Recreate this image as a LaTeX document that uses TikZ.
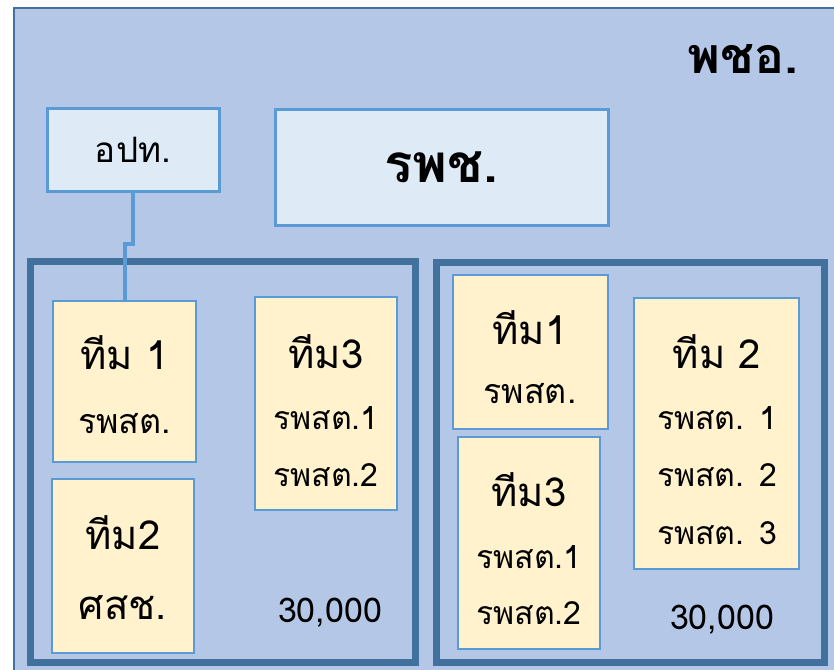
\documentclass[tikz,border=0pt]{standalone}
\usepackage{fontspec}
\newfontfamily\thai[Script=Thai]{Loma}
\definecolor{bgblue}{HTML}{B4C7E7}
\definecolor{frameblue}{HTML}{41719C}
\definecolor{edgeblue}{HTML}{5B9BD5}
\definecolor{paleblue}{HTML}{DEEBF7}
\definecolor{cream}{HTML}{FFF2CC}
\tikzset{
  fsz/.style={font=\thai\fontsize{#1}{#1}\selectfont},
  headbox/.style={draw=edgeblue, line width=3pt, fill=paleblue, inner sep=0pt},
  teambox/.style={draw=edgeblue, line width=1.3pt, fill=cream, inner sep=0pt},
  groupbox/.style={draw=frameblue, line width=7pt, inner sep=0pt},
  txt/.style={inner sep=0pt, anchor=center},
  link/.style={draw=edgeblue, line width=4pt},
}
\newcommand{\boxat}[6]{% name, style, x1, y1, x2, y2
  \node[#2, minimum width={(#5)-(#3)}, minimum height={(#6)-(#4)}] (#1) at ({((#3)+(#5))/2},{((#4)+(#6))/2}) {};}
\begin{document}
\begin{tikzpicture}[x=1pt, y=-1pt]
\useasboundingbox (0,0) rectangle (834,669);
\fill[white] (0,0) rectangle (834,669);
\begin{scope}
\clip (0,0) rectangle (834,669);
\draw[fill=bgblue, draw=frameblue, line width=2pt] (14,8) rectangle (860,700);
\end{scope}

% title of the whole area
\node[txt, fsz=50] (pcho) at (743,59) {\bfseries พชอ.};

% header boxes
\boxat{opt}{headbox}{47}{108}{219}{191}
\node[txt, fsz=35] (optt) at (opt) {อปท.};
\boxat{rpc}{headbox}{275}{109}{608}{225}
\node[txt, fsz=53] (rpct) at (rpc) {\bfseries รพช.};

% two groups
\boxat{gl}{groupbox}{30}{261}{415}{662}
\boxat{gr}{groupbox}{436}{262}{824}{662}

% left group teams
\boxat{la}{teambox}{53}{301}{196}{462}
\node[txt, fsz=40] (lat) at (124.5,353) {ทีม 1};
\node[txt, fsz=34] (las) at (124.5,424) {รพสต.};
\boxat{lb}{teambox}{52}{479}{194}{653}
\node[txt, fsz=40] (lbt) at (123,533) {ทีม2};
\node[txt, fsz=40] (lbs) at (123,608) {ศสช.};
\boxat{lc}{teambox}{255}{297}{397}{510}
\node[txt, fsz=40] (lct) at (326,352) {ทีม3};
\node[txt, fsz=32] (lcs1) at (326,418) {รพสต.1};
\node[txt, fsz=32] (lcs2) at (326,475) {รพสต.2};
\node[txt, fsz=34] (lnum) at (330,613) {30,000};

% right group teams
\boxat{ra}{teambox}{453}{275}{608}{429}
\node[txt, fsz=40] (rat) at (530,328) {ทีม1};
\node[txt, fsz=34] (ras) at (530,394) {รพสต.};
\boxat{rc}{teambox}{458}{437}{600}{649}
\node[txt, fsz=40] (rct) at (529,490) {ทีม3};
\node[txt, fsz=32] (rcs1) at (529,557) {รพสต.1};
\node[txt, fsz=32] (rcs2) at (529,613) {รพสต.2};
\boxat{rb}{teambox}{634}{298}{799}{569}
\node[txt, fsz=40] (rbt) at (717,352) {ทีม 2};
\node[txt, fsz=32] (rbs1) at (717,418) {รพสต. 1};
\node[txt, fsz=32] (rbs2) at (717,475) {รพสต. 2};
\node[txt, fsz=32] (rbs3) at (717,533) {รพสต. 3};
\node[txt, fsz=34] (rnum) at (722,620) {30,000};

% link from the local office to team 1
\coordinate (jog) at (133,244);
\draw[link] (opt.south -| jog) -- (jog) -- (jog -| la.north) -- (la.north);
\end{tikzpicture}
\end{document}
